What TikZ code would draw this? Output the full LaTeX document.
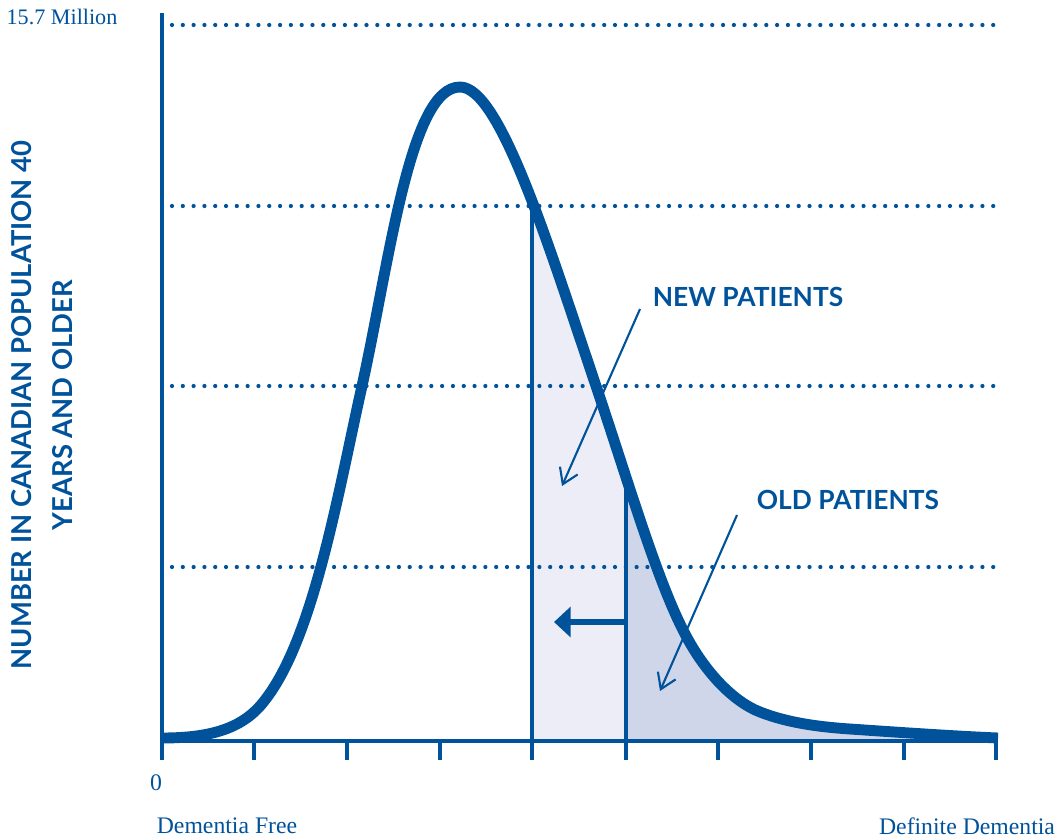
\documentclass[tikz,border=0pt]{standalone}
\usepackage{fontspec}
\setmainfont{Liberation Serif}
\newfontfamily\headfont{Lato}
\usetikzlibrary{arrows.meta}
\definecolor{cblue}{RGB}{0,82,155}
\definecolor{newfill}{RGB}{236,237,247}
\definecolor{oldfill}{RGB}{208,214,234}
\def\curvepts{(162,738) .. controls (212,738) and (244,728) .. (265,700)
  .. controls (314,637) and (338,493) .. (362,386)
  .. controls (390,259) and (410,87) .. (460,87)
  .. controls (500,87) and (548,244) .. (596,386)
  .. controls (628,481) and (656,577) .. (683,630)
  .. controls (703,670) and (732,701) .. (760,712)
  .. controls (788,723) and (820,727) .. (850,729)
  .. controls (880,731) and (950,736) .. (998,738)}

\begin{document}
\begin{tikzpicture}[x=0.02cm,y=-0.02cm,
    gridline/.style={cblue, line width=2.4pt, line cap=round, dash pattern=on 0pt off 6.15pt},
    axisline/.style={cblue, line width=2.7pt},
    tag/.style={text=cblue, font=\headfont\bfseries\fontsize{15}{18}\selectfont},
    serif/.style={text=cblue, font=\fontsize{13.5}{16}\selectfont},
    pointer/.style={cblue, line width=1.2pt, -{Straight Barb[length=8.5pt,width=11pt,line width=1.2pt]}}]
			%%%%% START %%%%%
			\useasboundingbox (0,0) rectangle (1060,838);
			
			% shaded parts under the curve
			\begin{scope}
				\clip (532,0) rectangle (626,741);
				\fill[newfill] \curvepts -- (998,741) -- (162,741) -- cycle;
			\end{scope}
			\begin{scope}
				\clip (626,0) rectangle (998,741);
				\fill[oldfill] \curvepts -- (998,741) -- (162,741) -- cycle;
			\end{scope}
			
			% dotted grid
			\foreach \gy in {25,206,386,567}
				\draw[gridline] (172,\gy) -- (1004,\gy);
			
			% axes and ticks
			\draw[axisline] (162,13) -- (162,743);
			\draw[axisline] (160,741) -- (998,741);
			\foreach \tx in {162,254,347,440,532,626,718,811,904,996}
				\draw[axisline] (\tx,741) -- (\tx,760);
			
			% cut lines
			\draw[cblue, line width=2.8pt] (532,210) -- (532,741);
			\draw[cblue, line width=2.8pt] (626,480) -- (626,741);
			
			% the curve
			\draw[cblue, line width=6.2pt, line join=round] \curvepts;
			
			% shift arrow
			\coordinate (shiftfrom) at (624,622);
			\coordinate (shiftto) at (554,622);
			\draw[cblue, line width=3.2pt, -{Triangle[length=9.5pt,width=17pt]}] (shiftfrom) -- (shiftto);
			
			% labels
			\node[tag] (newlbl) at (748,297) {NEW PATIENTS};
			\node[tag] (oldlbl) at (848,500) {OLD PATIENTS};
			\coordinate (newtip) at (562,486);
			\coordinate (oldtip) at (660,691);
			\draw[pointer] (640,309) -- (newtip);
			\draw[pointer] (737,515) -- (oldtip);
			
			\node[tag, rotate=90, align=center, font=\headfont\bfseries\fontsize{15.6}{23}\selectfont] (ylbl) at (42,405) {NUMBER IN CANADIAN POPULATION 40\\YEARS AND OLDER};
			
			\node[serif, font=\fontsize{12.6}{15}\selectfont] (top) at (62,17) {15.7 Million};
			\node[serif] (zero) at (156,783) {0};
			\node[serif] (free) at (227,826) {Dementia Free};
			\node[serif] (definite) at (967,826) {Definite Dementia};
			%%%%% END %%%%%
\end{tikzpicture}
\end{document}
